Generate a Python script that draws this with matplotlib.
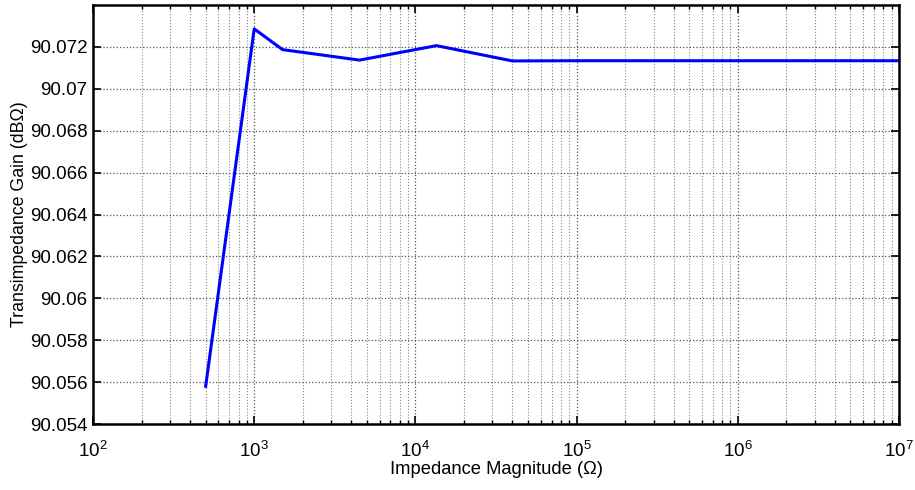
import matplotlib
matplotlib.use("Agg")
import matplotlib.pyplot as plt
from matplotlib.ticker import LogLocator, NullFormatter, FixedLocator

plt.rcParams['font.family'] = ['Liberation Sans', 'DejaVu Sans']
plt.rcParams['mathtext.fontset'] = 'custom'
plt.rcParams['mathtext.rm'] = 'Liberation Sans'
plt.rcParams['mathtext.it'] = 'Liberation Sans'

# impedance magnitude (ohm) and transimpedance gain (dB ohm)
impedance = [500, 1000, 1500, 4500, 13500, 40000, 100000, 1000000, 10000000]
gain = [90.0558, 90.07286, 90.07187, 90.07137, 90.07206, 90.07133, 90.07134, 90.07134, 90.07134]

y_ticks = [90.054, 90.056, 90.058, 90.06, 90.062, 90.064, 90.066, 90.068, 90.07, 90.072]
y_labels = ["90.054", "90.056", "90.058", "90.06", "90.062", "90.064",
            "90.066", "90.068", "90.07", "90.072"]
x_ticks = [1e2, 1e3, 1e4, 1e5, 1e6, 1e7]
x_labels = [r"$10^{2}$", r"$10^{3}$", r"$10^{4}$", r"$10^{5}$", r"$10^{6}$", r"$10^{7}$"]

fig = plt.figure(figsize=(9.15, 4.9), dpi=100)
ax = fig.add_axes([93 / 915, 1 - 424 / 490, (899 - 93) / 915, (424 - 5) / 490])

ax.semilogx(impedance, gain, color=(0, 0, 1), lw=2.2)

ax.set_xlim(1e2, 1e7)
ax.set_ylim(90.054, 90.074)
ax.xaxis.set_minor_locator(LogLocator(base=10, subs=range(2, 10), numticks=100))
ax.xaxis.set_minor_formatter(NullFormatter())
ax.set_xticks(x_ticks)
ax.set_xticklabels(x_labels)
ax.yaxis.set_major_locator(FixedLocator(y_ticks))
ax.set_yticklabels(y_labels)

ax.grid(True, which='major', linestyle=':', color='#555555', linewidth=0.9)
ax.grid(True, which='minor', axis='x', linestyle=':', color='#888888', linewidth=0.8)

ax.tick_params(which='both', direction='in', top=True, right=True, labelsize=13.5)
ax.tick_params(which='major', length=6, width=1.2)
ax.tick_params(which='minor', length=3, width=1.0)
ax.tick_params(axis='x', pad=12)
ax.tick_params(axis='y', pad=4)
for s in ax.spines.values():
    s.set_linewidth(1.8)

ax.set_xlabel("Impedance Magnitude (\u03a9)", fontsize=13.2, labelpad=0)
ax.set_ylabel("Transimpedance Gain (dB\u03a9)", fontsize=12.8, labelpad=1)

fig.savefig("out.png", dpi=100)
